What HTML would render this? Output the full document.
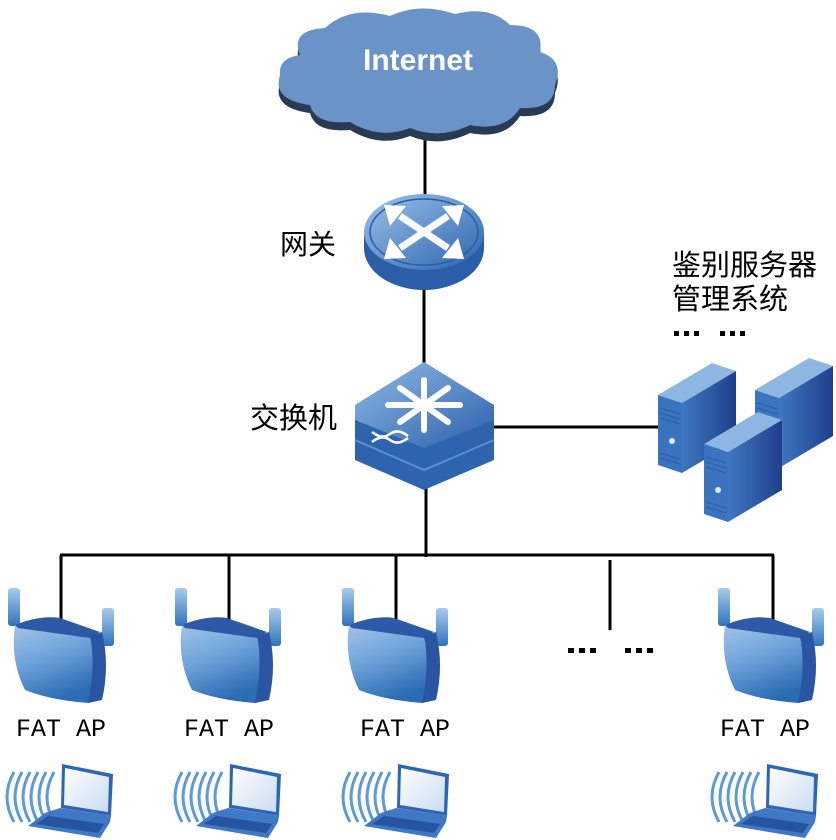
<!DOCTYPE html>
<html><head><meta charset="utf-8"><style>
html,body{margin:0;padding:0;background:#fff;}
svg{display:block;}
.cn{font-family:"Liberation Sans","Noto Sans CJK SC",sans-serif;font-size:29px;fill:#000;}
.ap{font-family:"Liberation Mono","DejaVu Sans Mono",monospace;font-size:25px;fill:#000;}
</style></head><body>
<svg width="836" height="840" viewBox="0 0 836 840" xmlns="http://www.w3.org/2000/svg">
<defs>
<linearGradient id="apg" x1="0" y1="0" x2="0.4" y2="1"><stop offset="0" stop-color="#a9c8ea"/><stop offset="0.5" stop-color="#6fa4da"/><stop offset="1" stop-color="#2b6cb3"/></linearGradient>
<linearGradient id="ant" x1="0" y1="0" x2="0" y2="1"><stop offset="0" stop-color="#a8cbea"/><stop offset="1" stop-color="#2f74bd"/></linearGradient>
<linearGradient id="rt" x1="0" y1="0" x2="1" y2="1"><stop offset="0" stop-color="#9cc3ea"/><stop offset="1" stop-color="#2a63ad"/></linearGradient>
<linearGradient id="sw" x1="0" y1="0" x2="1" y2="1"><stop offset="0" stop-color="#8fbbe6"/><stop offset="1" stop-color="#2c5fab"/></linearGradient>
<linearGradient id="sv" x1="0" y1="0" x2="1" y2="0"><stop offset="0" stop-color="#3f78c0"/><stop offset="1" stop-color="#1f3f8c"/></linearGradient>
<linearGradient id="scr" x1="0" y1="0" x2="1" y2="1"><stop offset="0" stop-color="#ffffff"/><stop offset="1" stop-color="#c8dcf2"/></linearGradient>
<g id="apd">
<rect x="8" y="588" width="12" height="38" rx="3" fill="url(#ant)"/>
<rect x="102" y="608" width="12" height="38" rx="3" fill="url(#ant)"/>
<path d="M15,625 Q40,615 60,622 L100,635 Q108,665 100,700 L88,703 Q50,700 25,690 Q10,660 15,625Z" fill="url(#apg)"/>
<path d="M15,625 Q40,615 60,618 L100,632 L90,638 L18,628Z" fill="#2c5aa6"/>
<path d="M90,636 L102,632 Q110,665 102,700 L88,703 Q96,665 90,636Z" fill="#2a55a3"/>
</g>
<g id="lap">
<g fill="none" stroke="#5c9ad8" stroke-width="3">
<path d="M14,772 Q0,797 14,822"/><path d="M22,772 Q8,797 22,822"/><path d="M30,772 Q16,797 30,822"/><path d="M38,772 Q24,797 38,822"/><path d="M46,772 Q32,797 46,822"/><path d="M54,772 Q40,797 54,822"/>
</g>
<path d="M62,764 L113,774 L111,816 L61,808Z" fill="#2f65b5"/>
<path d="M65,768 L109,777 L108,812 L64,805Z" fill="url(#scr)"/>
<path d="M60,808 L111,816 L110,822 L100,838 L28,826 L45,813Z" fill="#3f78c4"/>
<path d="M48,816 L104,824 L98,833 L36,824Z" fill="#26549f"/>
</g>
<g id="srv">
<path d="M0,32 L54,0 L78,8 L24,40Z" fill="#8db7e2"/>
<path d="M24,40 L78,8 L78,78 L24,110Z" fill="url(#sv)"/>
<path d="M0,32 L24,40 L24,110 L0,102Z" fill="#3b74be"/>
<g stroke="#2a5aa4" stroke-width="1"><line x1="2" y1="45" x2="22" y2="51"/><line x1="2" y1="50" x2="22" y2="56"/><line x1="2" y1="55" x2="22" y2="61"/><line x1="2" y1="90" x2="22" y2="96"/><line x1="2" y1="95" x2="22" y2="101"/></g>
<circle cx="14" cy="78" r="3" fill="#dfeaf7"/>
</g>
</defs>

<g stroke="#000" stroke-width="3" fill="none">
<line x1="425" y1="125" x2="425" y2="200"/>
<line x1="424" y1="285" x2="424" y2="365"/>
<line x1="490" y1="427" x2="662" y2="427"/>
<line x1="426" y1="485" x2="426" y2="557"/>
<line x1="60" y1="555" x2="774" y2="555"/>
<line x1="61" y1="555" x2="61" y2="622"/>
<line x1="229" y1="555" x2="229" y2="622"/>
<line x1="396" y1="555" x2="396" y2="622"/>
<line x1="610" y1="560" x2="610" y2="630"/>
<line x1="773" y1="555" x2="773" y2="622"/>
</g>

<g transform="translate(0,8)">
<path d="M300,55 Q290,30 325,28 Q350,5 390,16 Q420,2 455,14 Q490,5 510,25 Q545,25 540,52 Q565,60 555,85 Q555,110 520,108 Q505,132 470,125 Q440,140 410,128 Q380,140 350,122 Q315,125 310,105 Q272,100 280,75 Q278,58 300,55Z" fill="#2a3a55"/>
</g>
<path d="M300,55 Q290,30 325,28 Q350,5 390,16 Q420,2 455,14 Q490,5 510,25 Q545,25 540,52 Q565,60 555,85 Q555,110 520,108 Q505,132 470,125 Q440,140 410,128 Q380,140 350,122 Q315,125 310,105 Q272,100 280,75 Q278,58 300,55Z" fill="#6a93c8"/>
<text x="418" y="70" text-anchor="middle" font-family="Liberation Sans,sans-serif" font-weight="bold" font-size="30" fill="#fff">Internet</text>

<ellipse cx="424" cy="248" rx="60" ry="42" fill="#2c5ea8"/>
<rect x="364" y="232" width="120" height="16" fill="#2c5ea8"/>
<ellipse cx="424" cy="232" rx="60" ry="38" fill="url(#rt)"/>
<ellipse cx="424" cy="232" rx="54" ry="33" fill="none" stroke="#2a5ca7" stroke-width="1.5"/>
<g stroke="#fff" stroke-width="7" stroke-linecap="butt">
<line x1="400" y1="216" x2="448" y2="248"/><line x1="448" y1="216" x2="400" y2="248"/>
</g>
<g fill="#fff">
<path d="M464,205 L442,206 L458,226Z"/>
<path d="M384,205 L406,206 L390,226Z"/>
<path d="M464,259 L442,258 L458,238Z"/>
<path d="M384,259 L406,258 L390,238Z"/>
</g>

<path d="M355,420 L355,460 L424,490 L494,460 L494,420Z" fill="#2e63ad"/>
<path d="M355,440 L424,470 L494,440" fill="none" stroke="#5d8fcf" stroke-width="2"/>
<path d="M424,362 L494,405 L494,420 L424,448 L355,420 L355,405Z" fill="url(#sw)"/>
<g stroke="#fff" stroke-width="6" stroke-linecap="round">
<line x1="424" y1="380" x2="424" y2="430"/><line x1="388" y1="405" x2="460" y2="405"/>
<line x1="400" y1="388" x2="448" y2="422"/><line x1="448" y1="388" x2="400" y2="422"/>
</g>
<path d="M372,432 Q382,440 390,434 Q398,428 408,436 M372,442 Q382,434 390,440 Q398,446 408,438" fill="none" stroke="#fff" stroke-width="2.5"/>

<use href="#srv" transform="translate(755,358)"/>
<use href="#srv" transform="translate(658,363)"/>
<use href="#srv" transform="translate(704,412)"/>

<text class="cn" x="280" y="254" style="font-size:28px">网关</text>
<text class="cn" x="250" y="428">交换机</text>
<text class="cn" x="672" y="275">鉴别服务器</text>
<text class="cn" x="672" y="309">管理系统</text>
<g fill="#000">
<rect x="674" y="331" width="5" height="5"/><rect x="684" y="331" width="5" height="5"/><rect x="694" y="331" width="5" height="5"/>
<rect x="720" y="331" width="5" height="5"/><rect x="730" y="331" width="5" height="5"/><rect x="740" y="331" width="5" height="5"/>
<rect x="568" y="648" width="6" height="5"/><rect x="579" y="648" width="6" height="5"/><rect x="590" y="648" width="6" height="5"/>
<rect x="625" y="648" width="6" height="5"/><rect x="636" y="648" width="6" height="5"/><rect x="647" y="648" width="6" height="5"/>
</g>

<use href="#apd"/>
<use href="#apd" transform="translate(167,0)"/>
<use href="#apd" transform="translate(334,0)"/>
<use href="#apd" transform="translate(710,0)"/>
<text class="ap" x="61" y="736" text-anchor="middle">FAT AP</text>
<text class="ap" x="229" y="736" text-anchor="middle">FAT AP</text>
<text class="ap" x="405" y="736" text-anchor="middle">FAT AP</text>
<text class="ap" x="765" y="736" text-anchor="middle">FAT AP</text>

<use href="#lap"/>
<use href="#lap" transform="translate(168,0)"/>
<use href="#lap" transform="translate(336,0)"/>
<use href="#lap" transform="translate(705,0)"/>
</svg>
</body></html>
